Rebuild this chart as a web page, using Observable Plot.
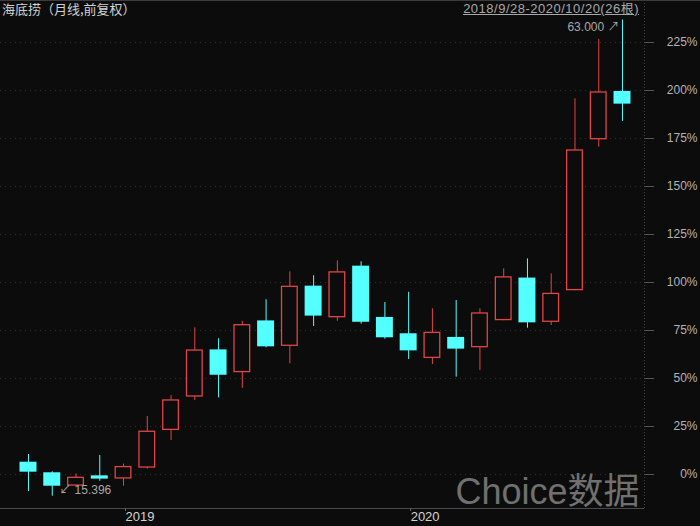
<!DOCTYPE html>
<html>
<head>
<meta charset="utf-8">
<script src="https://cdn.jsdelivr.net/npm/d3@7"></script>
<script src="https://cdn.jsdelivr.net/npm/@observablehq/plot@0.6"></script>
<style>
html, body { margin: 0; padding: 0; background: #0c0c0c; }
#wrap { position: relative; width: 700px; height: 526px; overflow: hidden; background: #0c0c0c; }
#wrap svg { display: block; }
#topline { position: absolute; left: 0; top: 0; width: 700px; height: 1px; background: #3c3c3c; }
#title { position: absolute; left: 2px; top: 0px; font-family: "Noto Sans CJK SC", sans-serif; font-size: 13px; line-height: 18px; color: #d2d2d2; white-space: nowrap; }
#range { position: absolute; right: 61px; top: 0px; font-family: "Liberation Sans", "Noto Sans CJK SC", sans-serif; font-size: 13px; line-height: 18px; letter-spacing: 0.5px; color: #a8a8a8; text-decoration: underline; white-space: nowrap; }
</style>
</head>
<body>
<div id="wrap">
  <div id="chart"></div>
  <div id="topline"></div>
  <div id="title"></div>
  <div id="range"></div>
</div>
<script>
// ---- data (percent change, monthly candles, front-adjusted) ----
const months = ["2018-09","2018-10","2018-11","2018-12","2019-01","2019-02","2019-03","2019-04","2019-05","2019-06","2019-07","2019-08","2019-09","2019-10","2019-11","2019-12","2020-01","2020-02","2020-03","2020-04","2020-05","2020-06","2020-07","2020-08","2020-09","2020-10"];
const openPct  = [6.4, 0.9, -6.1, -0.7, -2.4, 3.3, 22.9, 40.3, 64.9, 53.0, 80.0, 66.7, 98.1, 81.6, 108.5, 81.8, 73.3, 60.4, 71.4, 66.0, 80.1, 102.3, 79.2, 95.7, 174.3, 199.5];
const highPct  = [10.4, 1.4, 0.3, 9.9, 5.4, 30.2, 41.1, 76.4, 70.7, 79.8, 91.0, 105.6, 103.5, 111.3, 110.8, 89.6, 94.9, 86.3, 90.6, 86.3, 107.1, 112.3, 104.5, 195.7, 226.6, 236.7];
const lowPct   = [-8.9, -11.3, -6.3, -3.5, -6.1, 2.8, 17.7, 38.5, 39.9, 44.9, 66.0, 57.7, 77.1, 79.8, 78.3, 70.5, 59.9, 57.3, 50.7, 54.2, 80.1, 76.2, 77.6, 95.7, 170.5, 183.9];
const closePct = [1.2, -6.1, -1.4, -2.4, 4.2, 22.6, 38.9, 64.9, 51.7, 78.1, 66.5, 98.1, 82.5, 105.6, 79.3, 71.2, 64.4, 74.1, 65.3, 84.2, 103.0, 79.0, 94.4, 169.1, 199.3, 192.9];

const yTicks = [0, 25, 50, 75, 100, 125, 150, 175, 200, 225];
const yearTickMonths = ["2019-01", "2020-01"];
const yearTickLabels = ["2019", "2020"];

const titleText = "海底捞（月线,前复权）";
const rangeText = "2018/9/28-2020/10/20(26根)";
const maxLabel = "63.000";
const minLabel = "15.396";
const watermark = "Choice数据";

// ---- build table ----
const data = months.map((m, i) => ({
  i, month: m,
  open: openPct[i], high: highPct[i], low: lowPct[i], close: closePct[i],
  up: closePct[i] >= openPct[i]
}));
const upData = data.filter(d => d.up);
const downData = data.filter(d => !d.up);
const maxD = data.reduce((a, b) => (b.high > a.high ? b : a));
const minD = data.reduce((a, b) => (b.low < a.low ? b : a));
const yearTicks = yearTickMonths.map(m => months.indexOf(m));

// scale settings
const xDomain = [-1.178, 25.926];
const yDomain = [-17.708, 246.875];
const half = 0.357;

const UP = "#e24545";
const DOWN = "#54ffff";
const BG = "#0c0c0c";

document.getElementById("title").textContent = titleText;
document.getElementById("range").textContent = rangeText;

const chart = Plot.plot({
  width: 700,
  height: 526,
  marginTop: 0,
  marginBottom: 18,
  marginLeft: 0,
  marginRight: 56,
  style: { background: BG, fontFamily: "Liberation Sans, Noto Sans CJK SC, sans-serif" },
  x: { type: "linear", domain: xDomain, label: null },
  y: { domain: yDomain, label: null },
  marks: [
    Plot.gridY(yTicks, { stroke: "#2f2f2f", strokeOpacity: 1, strokeDasharray: "1,4" }),
    Plot.ruleY([yDomain[0]], { stroke: "#4a4a4a" }),
    Plot.ruleX([xDomain[1]], { stroke: "#444", strokeDasharray: "1,2" }),
    Plot.axisY({
      anchor: "right", ticks: yTicks, tickFormat: d => d + "%", label: null,
      tickSize: 9, tickPadding: 44, textAnchor: "end",
      stroke: "#555", fill: "#b4b4b4", fontSize: 12
    }),
    Plot.axisX({
      anchor: "bottom", ticks: yearTicks, label: null,
      tickFormat: d => yearTickLabels[yearTicks.indexOf(d)],
      tickSize: 3, tickPadding: 0, textAnchor: "start", dx: 2,
      stroke: "#666", fill: "#d4d4d4", fontSize: 13
    }),
    // wicks
    Plot.ruleX(downData, { x: "i", y1: "low", y2: "high", stroke: DOWN, strokeWidth: 1 }),
    Plot.ruleX(upData, { x: "i", y1: "low", y2: "high", stroke: UP, strokeWidth: 1 }),
    // bodies
    Plot.rect(downData, { x1: d => d.i - half, x2: d => d.i + half, y1: "open", y2: "close", fill: DOWN }),
    Plot.rect(upData, { x1: d => d.i - half, x2: d => d.i + half, y1: "open", y2: "close", fill: BG, stroke: UP, strokeWidth: 1.3, inset: 0.65 }),
    // extremes
    Plot.text([maxD], { x: "i", y: "high", text: () => maxLabel + " ↗", textAnchor: "end", dx: -3, dy: 7.5, fill: "#a8a8a8", fontSize: 12 }),
    Plot.text([minD], { x: "i", y: "low", text: () => "↙ " + minLabel, textAnchor: "start", dx: 7, dy: -6, fill: "#a8a8a8", fontSize: 12 }),
    // watermark
    Plot.text([watermark], { frameAnchor: "bottom-right", text: d => d, textAnchor: "end", lineAnchor: "bottom", dx: -5, dy: -5, fill: "#707070", fontSize: 36, fontFamily: "Liberation Sans, Noto Sans CJK SC, sans-serif" })
  ]
});
document.getElementById("chart").appendChild(chart);
</script>
</body>
</html>
